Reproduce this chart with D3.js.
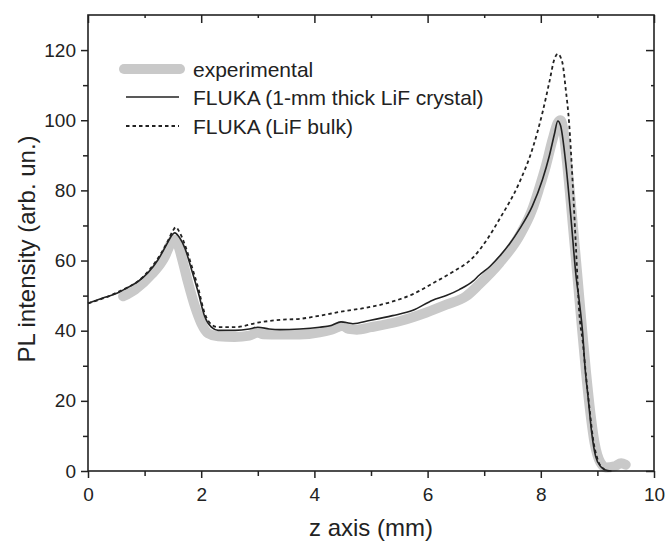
<!DOCTYPE html>
<html><head><meta charset="utf-8">
<script src="https://cdn.jsdelivr.net/npm/d3@7"></script>
<style>body{margin:0;background:#fff}svg{display:block}text{font-family:"Liberation Sans",Arial,sans-serif;fill:#222}</style>
</head><body><svg id="c" width="666" height="541"></svg>
<script>
// --- data ---
const expZ = [0.62,0.83,1.12,1.36,1.45,1.52,1.58,1.65,1.77,1.89,2.0,2.12,2.3,2.59,2.85,3.0,3.1,3.39,3.74,4.09,4.3,4.5,4.6,4.75,5.0,5.5,5.98,6.33,6.68,6.91,7.27,7.62,7.85,7.97,8.09,8.21,8.30,8.35,8.40,8.45,8.55,8.65,8.72,8.80,8.88,8.95,9.05,9.15,9.3,9.42,9.5];
const expV = [49.8,51.7,56,61.2,64.5,66,65,61.2,53.6,46.9,42.2,39.3,38.4,38.2,38.6,39.5,39.0,38.9,38.9,39.5,40.3,41.4,40.5,40.3,41,42.7,45.2,47.4,49.8,53.2,59.3,67,74.6,80.5,87,94.6,99.3,100,97,90,73,55,42,28,16,8,2.5,1.0,1.3,2.2,1.8];
const crystalZ = [0,0.3,0.53,0.71,0.89,1.06,1.24,1.39,1.49,1.53,1.62,1.71,1.83,1.95,2.06,2.18,2.3,2.6,2.85,3.0,3.2,3.39,3.74,4.09,4.3,4.47,4.6,4.68,4.97,5.38,5.74,6.09,6.33,6.56,6.80,6.91,7.1,7.27,7.45,7.62,7.85,8.03,8.15,8.24,8.30,8.35,8.44,8.53,8.62,8.69,8.74,8.78,8.84,8.90,8.97,9.06,9.18,9.25];
const crystalV = [47.8,49.5,50.8,52.4,54.1,56.5,60.3,64.6,67.4,67.9,66.5,63.6,57.4,50.8,44.1,41.0,40.1,40.1,40.5,41.0,40.5,40.3,40.5,41.0,41.5,42.5,42.2,42.0,42.9,44.3,45.8,48.7,50.0,51.7,54.1,55.8,58.3,61.2,64.8,68.9,75.5,83.1,89.8,96,99.8,98.4,87.9,72.7,56,47,39.3,29.8,20.3,10.8,4.1,1.2,0.1,0];
const bulkZ = [0,0.5,1.0,1.2,1.4,1.5,1.55,1.62,1.7,1.83,1.95,2.06,2.18,2.3,2.6,3.0,3.4,3.75,4.1,4.5,4.9,5.4,5.75,6.1,6.45,6.8,7.05,7.27,7.62,7.85,8.03,8.15,8.24,8.30,8.38,8.44,8.50,8.56,8.62,8.68,8.74,8.80,8.86,8.92,9.0,9.08,9.2];
const bulkV = [47.8,50.8,55.8,59.8,65.2,68.5,69.5,68,65,58.5,52,45,41.8,41,41,42.3,43.1,43.4,44.3,45.5,46.5,48.4,50.5,53.6,56.8,60.8,66.0,71.8,82.2,91.7,102.2,110.8,117.4,118.9,116.5,108.9,99.3,83.1,64.1,45,37,27,18,9.5,3.5,1,0];
const seriesNames = ["experimental","FLUKA (1-mm thick LiF crystal)","FLUKA (LiF bulk)"];
const xTicks = [0,2,4,6,8,10];
const yTicks = [0,20,40,60,80,100,120];
const xLabel = "z axis (mm)";
const yLabel = "PL intensity (arb. un.)";

// --- drawing ---
const svg = d3.select("#c");
const L=88, R=654, T=15, B=471;
const x = d3.scaleLinear().domain([0,10]).range([L,R]);
const y = d3.scaleLinear().domain([0,130]).range([B,T]);
const ink="#222";

const line = d3.line().x(d=>x(d[0])).y(d=>y(d[1])).curve(d3.curveMonotoneX);
const zip=(a,b)=>a.map((v,i)=>[v,b[i]]);

svg.append("path").attr("d",line(zip(expZ,expV))).attr("fill","none")
  .attr("stroke","#c9c9c9").attr("stroke-width",10).attr("stroke-linecap","round").attr("stroke-linejoin","round");
svg.append("path").attr("d",line(zip(bulkZ,bulkV))).attr("fill","none")
  .attr("stroke",ink).attr("stroke-width",1.8).attr("stroke-dasharray","3.5,3");
svg.append("path").attr("d",line(zip(crystalZ,crystalV))).attr("fill","none")
  .attr("stroke",ink).attr("stroke-width",1.6);

// axes
const fmt=d3.format("d");
const minorX = d3.range(1,10,2), minorY = d3.range(10,130,20);
function axisGroup(ax,tr){const g=svg.append("g").attr("transform",tr).call(ax);g.select(".domain").remove();g.selectAll("line").attr("stroke",ink).attr("stroke-width",1.5);return g;}
// bottom
const gb=axisGroup(d3.axisBottom(x).tickValues(xTicks).tickFormat(fmt).tickSize(7).tickPadding(10),`translate(0,${B})`);
gb.selectAll("text").attr("font-size",19).style("fill",ink);
axisGroup(d3.axisBottom(x).tickValues(minorX).tickFormat("").tickSize(5),`translate(0,${B})`);
// left
const gl=axisGroup(d3.axisLeft(y).tickValues(yTicks).tickFormat(fmt).tickSize(7).tickPadding(5),`translate(${L},0)`);
gl.selectAll("text").attr("font-size",19).style("fill",ink);
axisGroup(d3.axisLeft(y).tickValues(minorY).tickFormat("").tickSize(5),`translate(${L},0)`);
// top & right inward
axisGroup(d3.axisBottom(x).tickValues(xTicks).tickFormat("").tickSize(8),`translate(0,${T})`);
axisGroup(d3.axisBottom(x).tickValues(minorX).tickFormat("").tickSize(3),`translate(0,${T})`);
axisGroup(d3.axisLeft(y).tickValues(yTicks).tickFormat("").tickSize(8),`translate(${R},0)`);
axisGroup(d3.axisLeft(y).tickValues(minorY).tickFormat("").tickSize(3),`translate(${R},0)`);
svg.append("rect").attr("x",L).attr("y",T).attr("width",R-L).attr("height",B-T)
  .attr("fill","none").attr("stroke",ink).attr("stroke-width",1.6);

// axis titles
svg.append("text").attr("x",(L+R)/2).attr("y",536).attr("text-anchor","middle").attr("font-size",24).text(xLabel);
svg.append("text").attr("transform",`translate(35,${(T+B)/2+6}) rotate(-90)`).attr("text-anchor","middle").attr("font-size",24).text(yLabel);

// legend
const lg = svg.append("g");
const rows=[{y:69,stroke:"#c9c9c9",w:10,dash:null,x1:124,x2:180,cap:"round"},
            {y:97,stroke:ink,w:1.6,dash:null,x1:126,x2:179,cap:"butt"},
            {y:126,stroke:ink,w:1.8,dash:"3.5,3",x1:126,x2:179,cap:"butt"}];
rows.forEach((r,i)=>{
  lg.append("line").attr("x1",r.x1).attr("x2",r.x2).attr("y1",r.y).attr("y2",r.y)
    .attr("stroke",r.stroke).attr("stroke-width",r.w).attr("stroke-linecap",r.cap).attr("stroke-dasharray",r.dash);
  lg.append("text").attr("x",193).attr("y",r.y+7.5).attr("font-size",21).text(seriesNames[i]);
});
</script></body></html>
